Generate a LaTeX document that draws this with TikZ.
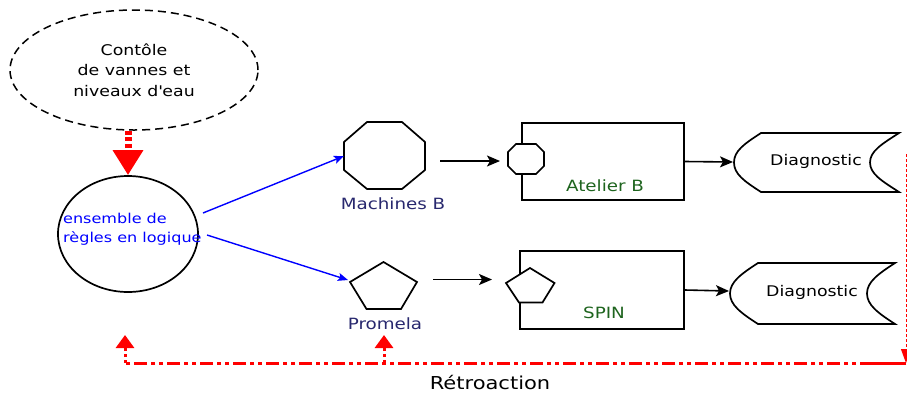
\documentclass[tikz,border=0pt]{standalone}
\usepackage{fontspec}
\setmainfont{DejaVu Sans}[FakeStretch=1.18]
\usetikzlibrary{arrows.meta,shapes.geometric}
\definecolor{navylbl}{RGB}{40,40,110}
\definecolor{greenlbl}{RGB}{30,100,30}
\begin{document}
\begin{tikzpicture}[x=1pt,y=-1pt,line join=miter,
  shapeline/.style={draw=black,line width=1.7pt},
  lbl/.style={font=\fontsize{15.5}{18}\selectfont,text=navylbl,inner sep=0pt},
  toollbl/.style={font=\fontsize{15.5}{18}\selectfont,text=greenlbl,inner sep=0pt},
  diagtxt/.style={font=\fontsize{14.7}{18}\selectfont,inner sep=0pt},
  blackarrow/.style={draw=black,line width=1.6pt,-{Stealth[length=13pt,width=11pt,inset=3pt]}},
  bluearrow/.style={draw=blue,line width=1.4pt,-{Stealth[length=10pt,width=8pt,inset=2pt]}},
  fbline/.style={draw=red,line width=3pt,dash pattern=on 13pt off 4pt on 4pt off 4pt on 4pt off 4pt},
  fbup/.style={draw=red,line width=3pt,dash pattern=on 3pt off 3pt,-{Triangle[width=18pt,length=13pt]}}
]
\useasboundingbox (0,0) rectangle (907,392);

% top dashed ellipse
\node[ellipse,draw=black,line width=1.5pt,dash pattern=on 8pt off 5pt,
  minimum width=248pt,minimum height=120pt,inner sep=0pt,align=center,
  font=\fontsize{14.7}{20.5}\selectfont] (ctrl) at (134,70) {Contôle\\de vannes et\\niveaux d\textquotesingle eau};

% rules ellipse
\node[ellipse,draw=black,line width=1.7pt,minimum width=140pt,minimum height=116pt,inner sep=0pt] (rules) at (128,234) {};
\node[anchor=west,align=left,text=blue,inner sep=0pt,font=\fontsize{13.6}{18.5}\selectfont] (rulestxt) at (63,229) {ensemble de\\règles en logique};

% red arrow top
\draw[draw=red,line width=7pt,dash pattern=on 4pt off 2.5pt,-{Triangle[width=29pt,length=25pt]}]
  (ctrl.south -| rules.north) -- (rules.north);

% octagon Machines B
\draw[shapeline] (367,122) -- (402,122) -- (425,142) -- (425,170) -- (402,189) -- (367,189) -- (344,170) -- (344,142) -- cycle;
\coordinate (mbw) at (344,156);
\node[lbl] (mblbl) at (393,204) {Machines B};

% pentagon Promela
\draw[shapeline] (383.5,262) -- (417,282) -- (401,309) -- (366.5,309) -- (350,282) -- cycle;
\coordinate (prw) at (348,280);
\node[lbl] (prlbl) at (385,324) {Promela};

% blue arrows
\coordinate (b1s) at (203,213);
\coordinate (b2s) at (207,235);
\draw[bluearrow] (b1s) -- (mbw);
\draw[bluearrow] (b2s) -- (prw);

% Atelier B box
\node[draw=black,line width=1.7pt,minimum width=162pt,minimum height=77pt,inner sep=0pt] (atelier) at (603,161.5) {};
\draw[shapeline,fill=white] (516,144) -- (536,144) -- (544,152) -- (544,166) -- (536,174) -- (516,174) -- (508,166) -- (508,152) -- cycle;
\node[toollbl] (atlbl) at (605,186) {Atelier B};

% SPIN box
\node[draw=black,line width=1.7pt,minimum width=164pt,minimum height=78pt,inner sep=0pt] (spin) at (602,290) {};
\draw[shapeline,fill=white] (530,268) -- (554.5,283) -- (542.5,302.5) -- (519,302.5) -- (506,283) -- cycle;
\node[toollbl] (spinlbl) at (604,313) {SPIN};

% black arrows
\coordinate (a1s) at (440,161);
\coordinate (a1e) at (500,161);
\coordinate (a2s) at (433,279.5);
\coordinate (a2e) at (492,279.5);
\draw[blackarrow] (a1s) -- (a1e);
\draw[blackarrow] (a2s) -- (a2e);

% Diagnostic 1
\draw[shapeline] (761,133) -- (899,133) .. controls (882,144) and (870,151) .. (870,162.5)
  .. controls (870,174) and (882,181) .. (899,192) -- (761,192)
  .. controls (744,181) and (734,174) .. (734,162.5) .. controls (734,151) and (744,144) .. cycle;
\coordinate (d1w) at (733,162);
\node[diagtxt] (d1) at (816,161) {Diagnostic};

% Diagnostic 2
\draw[shapeline] (758,263) -- (895,263) .. controls (878,274) and (867,282) .. (867,293.5)
  .. controls (867,305) and (878,313) .. (895,324) -- (758,324)
  .. controls (741,313) and (730,305) .. (730,293.5) .. controls (730,282) and (741,274) .. cycle;
\coordinate (d2w) at (729,291);
\node[diagtxt] (d2) at (812,292) {Diagnostic};

\draw[blackarrow] (atelier.east) -- (d1w);
\draw[blackarrow] (spin.east |- 0,290) -- (d2w);

% feedback
\coordinate (fbtop) at (906,154);
\coordinate (fbR) at (906,363);
\coordinate (fbM) at (384,363);
\coordinate (fbL) at (125,363);
\coordinate (upL) at (125,335);
\coordinate (upM) at (384,335);
\draw[draw=red,line width=1pt,dash pattern=on 3pt off 2pt,-{Triangle[width=10pt,length=14pt]}] (fbtop) -- (fbR);
\draw[fbline] (fbR) -- (fbL);
\draw[draw=red,line width=3pt] (fbR) -- (866,363);
\draw[fbup] (fbL) -- (upL);
\draw[fbup] (fbM) -- (upM);
\node[font=\fontsize{17.8}{20}\selectfont,inner sep=0pt] (retro) at (490,382) {Rétroaction};
\end{tikzpicture}
\end{document}
